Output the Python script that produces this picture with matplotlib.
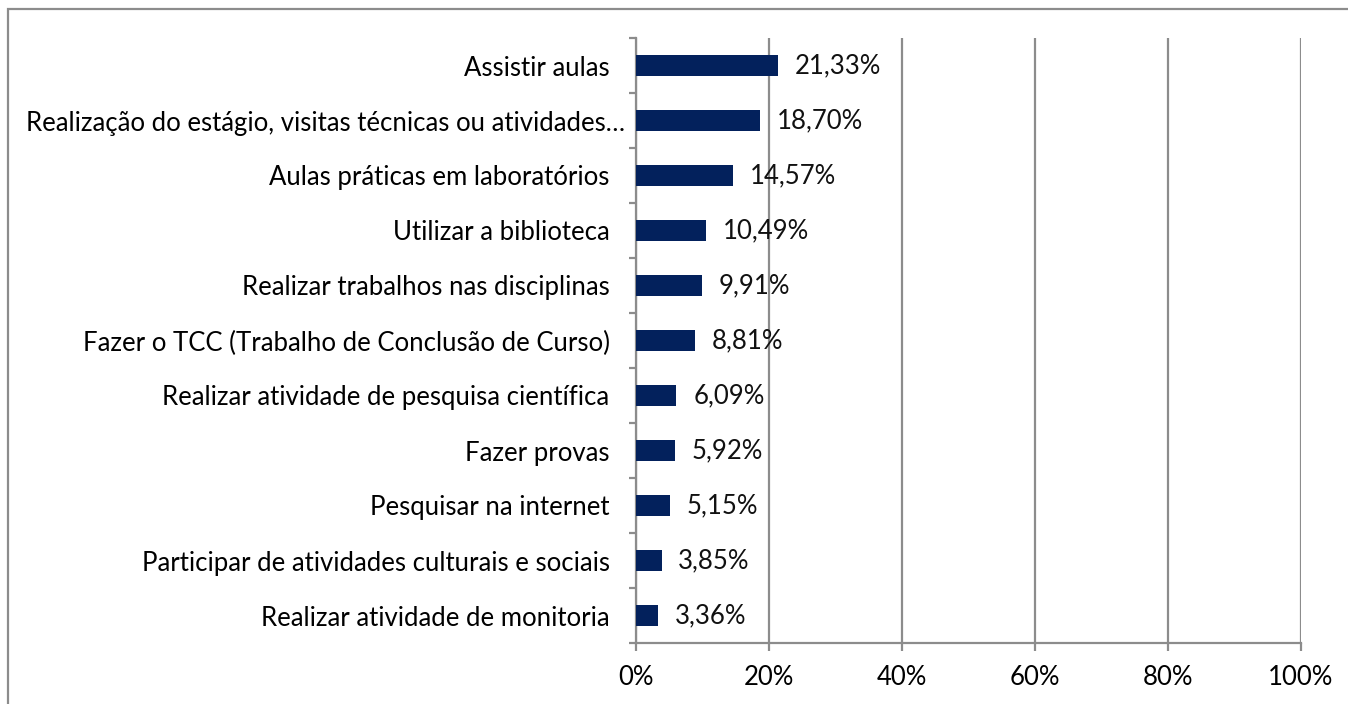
import matplotlib.pyplot as plt
from matplotlib.patches import Rectangle
from matplotlib.ticker import FixedLocator
from matplotlib.transforms import ScaledTranslation

categories = [
    "Assistir aulas",
    "Realização do estágio, visitas técnicas ou atividades…",
    "Aulas práticas em laboratórios",
    "Utilizar a biblioteca",
    "Realizar trabalhos nas disciplinas",
    "Fazer o TCC (Trabalho de Conclusão de Curso)",
    "Realizar atividade de pesquisa científica",
    "Fazer provas",
    "Pesquisar na internet",
    "Participar de atividades culturais e sociais",
    "Realizar atividade de monitoria",
]
values = [21.33, 18.70, 14.57, 10.49, 9.91, 8.81, 6.09, 5.92, 5.15, 3.85, 3.36]
xticks = [0, 20, 40, 60, 80, 100]

plt.rcParams['font.family'] = ['Lato', 'DejaVu Sans']
grey = '#8c8c8c'
bar_color = '#03215c'
fs = 18.5

fig = plt.figure(figsize=(13.48, 7.04), dpi=100)
ax = fig.add_axes([636 / 1348, 1 - 643 / 704, 665 / 1348, 605 / 704])

# outer chart frame
fig.patches.append(Rectangle((8 / 1348, -0.1), 1.2, 1 - 9 / 704 + 0.1,
                             transform=fig.transFigure, fill=False,
                             edgecolor=grey, linewidth=1.6))

y = list(range(len(categories)))
ax.barh(y, values, height=0.38, color=bar_color, zorder=3)
for yi, v in zip(y, values):
    ax.annotate(f"{v:.2f}%".replace('.', ','), (v, yi), xytext=(12, 0),
                textcoords='offset points', va='center', ha='left',
                fontsize=fs, color='#111111', zorder=4)

ax.set_xlim(0, 100)
ax.set_ylim(len(categories) - 0.5, -0.5)
ax.set_xticks(xticks)
ax.set_xticklabels([f"{t}%" for t in xticks], fontsize=fs)
ax.set_yticks(y)
ax.set_yticklabels(categories, fontsize=fs)
ax.yaxis.set_minor_locator(FixedLocator([i - 0.5 for i in range(len(categories) + 1)]))

ax.tick_params(axis='y', which='major', length=0, pad=19)
ax.tick_params(axis='y', which='minor', length=5, width=1.6, color=grey, direction='out')
ax.tick_params(axis='x', length=6, width=1.6, color=grey, pad=10)

# the truncated label sits a little closer to the axis, as in the source
lbl = ax.get_yticklabels()[1]
lbl.set_transform(lbl.get_transform() + ScaledTranslation(0.15, 0, fig.dpi_scale_trans))

ax.grid(axis='x', color=grey, linewidth=1.6, zorder=0)
ax.set_axisbelow(True)
for s in ['top', 'right']:
    ax.spines[s].set_visible(False)
for s in ['left', 'bottom']:
    ax.spines[s].set_color(grey)
    ax.spines[s].set_linewidth(1.6)

fig.savefig('out.png', dpi=100)
